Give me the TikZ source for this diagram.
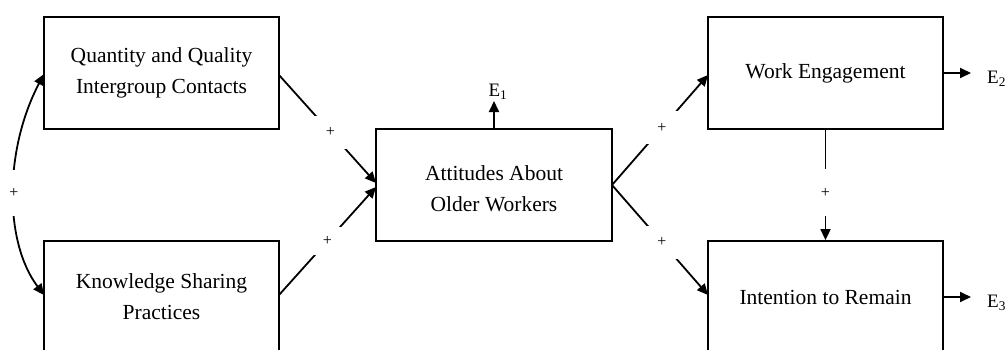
\documentclass[tikz,border=0pt]{standalone}
\usepackage{fontspec}
\setmainfont{Liberation Serif}
\usetikzlibrary{arrows.meta}
\begin{document}
\begin{tikzpicture}[x=1pt,y=-1pt,
  box/.style={draw,line width=1.8pt,minimum width=235pt,minimum height=112pt,inner sep=0pt,align=center,font=\fontsize{21.5}{31}\selectfont},
  boxtext/.style={inner sep=0pt,align=center,font=\fontsize{21.5}{31}\selectfont},
  conn/.style={line width=1.8pt,-{Triangle[length=11pt,width=10pt]}},
  gap/.style={fill=white,inner sep=0pt,minimum size=33pt,font=\fontsize{16}{16}\selectfont},
  elab/.style={font=\fontsize{19}{19}\selectfont,inner sep=0pt}]
\useasboundingbox (0,0) rectangle (1007,349);
\begin{scope}
\clip (0,0) rectangle (1007,349);
\node[box] (q) at (161.5,73) {Quantity and Quality\\Intergroup Contacts};
\node[box] (k) at (161.5,297) {Knowledge Sharing\\Practices};
\node[box,minimum width=236pt] (a) at (494,185) {};
\node[boxtext] (at) at (494,189) {Attitudes About\\Older Workers};
\node[box] (w) at (825.5,73) {Work Engagement};
\node[box] (r) at (825.5,297) {Intention to Remain};
\end{scope}
\coordinate (a1) at (376,183);
\coordinate (a2) at (376,187);
\coordinate (ao) at (612,185);
\node[elab] (e1) at (498,92) {E\textsubscript{1}};
\node[elab,anchor=west] (e2) at (987,79) {E\textsubscript{2}};
\node[elab,anchor=west] (e3) at (987,303) {E\textsubscript{3}};
\coordinate (e1b) at (494,101);
\coordinate (e2b) at (971,73);
\coordinate (e3b) at (971,297);
\coordinate (qw) at (44,74);
\coordinate (kw) at (44,295);
\coordinate (qe) at (279,75);
\coordinate (ke) at (279,295);
\coordinate (wi) at (708,75);
\coordinate (ri) at (708,295);
\draw[conn] (qe) -- node[gap,pos=0.53]{+} (a1);
\draw[conn] (ke) -- node[gap,pos=0.5,minimum size=28pt]{+} (a2);
\draw[conn] (ao) -- node[gap,pos=0.52]{+} (wi);
\draw[conn] (ao) -- node[gap,pos=0.52]{+} (ri);
\draw[conn] (w.south) -- node[gap,pos=0.57,minimum size=0pt,minimum height=47pt,minimum width=12pt]{+} (r.north);
\draw[line width=1.8pt,{Triangle[length=11pt,width=10pt]}-{Triangle[length=11pt,width=10pt]}] (qw) .. controls (4,150) and (4,242) .. node[gap,pos=0.5,minimum size=0pt,minimum height=46pt,minimum width=12pt]{+} (kw);
\draw[conn] (a.north) -- (e1b);
\draw[conn] (w.east) -- (e2b);
\draw[conn] (r.east) -- (e3b);
\end{tikzpicture}
\end{document}
